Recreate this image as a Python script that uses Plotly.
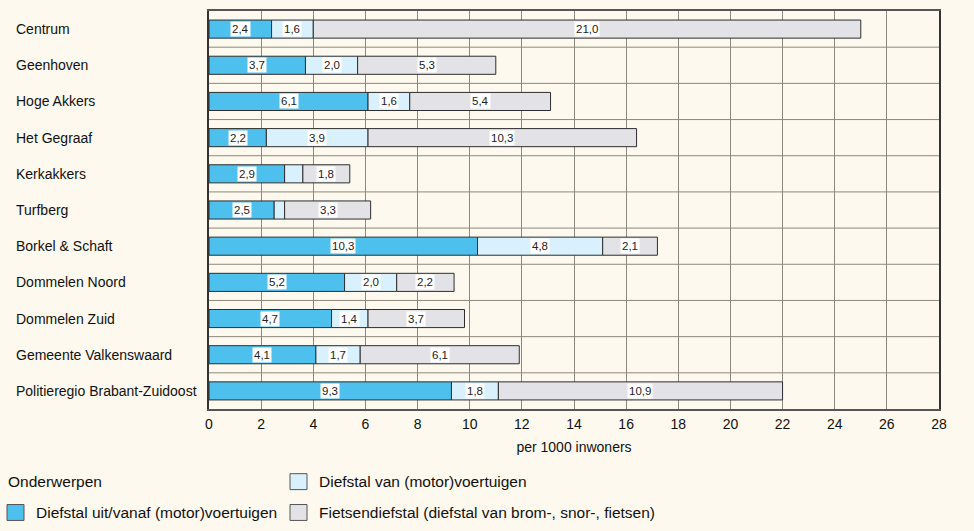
import plotly.graph_objects as go

categories = ["Centrum", "Geenhoven", "Hoge Akkers", "Het Gegraaf", "Kerkakkers",
              "Turfberg", "Borkel & Schaft", "Dommelen Noord", "Dommelen Zuid",
              "Gemeente Valkenswaard", "Politieregio Brabant-Zuidoost"]
uit_vanaf = [2.4, 3.7, 6.1, 2.2, 2.9, 2.5, 10.3, 5.2, 4.7, 4.1, 9.3]
van_voertuigen = [1.6, 2.0, 1.6, 3.9, 0.7, 0.4, 4.8, 2.0, 1.4, 1.7, 1.8]
fietsen = [21.0, 5.3, 5.4, 10.3, 1.8, 3.3, 2.1, 2.2, 3.7, 6.1, 10.9]
series_names = ["Diefstal uit/vanaf (motor)voertuigen",
                "Diefstal van (motor)voertuigen",
                "Fietsendiefstal (diefstal van brom-, snor-, fietsen)"]
series_values = [uit_vanaf, van_voertuigen, fietsen]
colors = ["#4DC0EE", "#D9F1FC", "#E3E3E7"]
x_ticks = list(range(0, 29, 2))
x_title = "per 1000 inwoners"
legend_title = "Onderwerpen"

BG = "#FDF9EE"
FONT = "Liberation Sans, Arial, sans-serif"
W, H = 974, 531
ML, MR, MT, MB = 209, 35, 9, 122
PW, PH = W - ML - MR, H - MT - MB

def px(x):
    return (x - ML) / PW

def py(y):
    return (H - MB - y) / PH

fig = go.Figure()
bases = [0.0] * len(categories)
annotations = []
for name, vals, col in zip(series_names, series_values, colors):
    fig.add_trace(go.Bar(
        y=categories, x=vals, base=list(bases), orientation="h", name=name,
        marker=dict(color=col, line=dict(color="#2E2E2E", width=1)),
        width=0.5, showlegend=False, hoverinfo="x+y+name",
    ))
    for c, v, b in zip(categories, vals, bases):
        if v >= 1.0:
            annotations.append(dict(
                x=b + v / 2, y=c, xref="x", yref="y",
                text=f"{v:.1f}".replace(".", ","), showarrow=False,
                font=dict(family=FONT, size=11.5, color="#222"),
                bgcolor="white", borderpad=1,
            ))
    bases = [b + v for b, v in zip(bases, vals)]

# category labels, left aligned
for c in categories:
    annotations.append(dict(
        x=px(14), y=c, xref="paper", yref="y", xanchor="left",
        text=c, showarrow=False, font=dict(family=FONT, size=14, color="#111"),
    ))

shapes = []
for k in range(len(categories) - 1):
    shapes.append(dict(type="line", xref="paper", x0=0, x1=1, yref="y",
                       y0=k + 0.5, y1=k + 0.5, layer="below",
                       line=dict(color="#8C897C", width=1)))

# custom legend
annotations.append(dict(x=px(6), y=py(482), xref="paper", yref="paper",
                        xanchor="left", yanchor="middle", text=legend_title,
                        showarrow=False, font=dict(family=FONT, size=15.5, color="#111")))
legend_pos = [(7, 513), (290, 482), (290, 513)]
for (lx, ly), name, col in zip(legend_pos, series_names, colors):
    shapes.append(dict(type="rect", xref="paper", yref="paper",
                       x0=px(lx), x1=px(lx + 17), y0=py(ly + 8), y1=py(ly - 8),
                       fillcolor=col, line=dict(color="#555", width=1)))
    annotations.append(dict(x=px(lx + 27), y=py(ly), xref="paper", yref="paper",
                            xanchor="left", yanchor="middle", text=name,
                            showarrow=False, font=dict(family=FONT, size=15.5, color="#111")))

fig.update_layout(
    width=W, height=H, barmode="overlay",
    paper_bgcolor=BG, plot_bgcolor=BG,
    margin=dict(l=ML, r=MR, t=MT, b=MB),
    font=dict(family=FONT, size=14, color="#111"),
    annotations=annotations, shapes=shapes,
    xaxis=dict(range=[0, 28], tickvals=x_ticks, showgrid=True,
               gridcolor="#8C897C", gridwidth=1, zeroline=False,
               showline=True, linecolor="#555", linewidth=1.5, mirror=True,
               ticks="outside", ticklen=1, tickcolor=BG,
               title=dict(text=x_title, standoff=12, font=dict(size=14)),
               tickfont=dict(size=14)),
    yaxis=dict(categoryorder="array", categoryarray=categories, autorange="reversed",
               showticklabels=False, showgrid=False, zeroline=False,
               showline=True, linecolor="#333", linewidth=1.5, mirror=True),
)

fig.write_html("out.html", config={"displayModeBar": False},
               post_script="document.body.style.margin='0';"
                           "document.body.style.background='" + BG + "';")
